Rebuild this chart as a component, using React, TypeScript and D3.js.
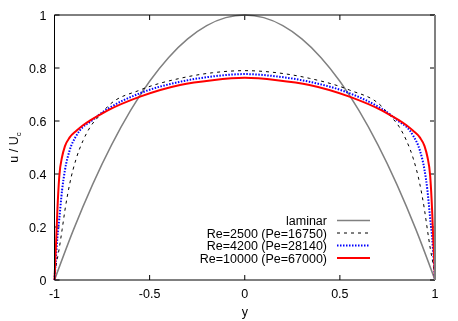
import * as d3 from 'd3'
import { useEffect, useRef } from 'react'

// wall-normal position (channel half-width = 1)
const yPos = [
  -1, -0.99, -0.985, -0.975, -0.96, -0.945, -0.92, -0.885, -0.85, -0.81, -0.76, -0.72, -0.55, -0.34, -0.17, 0,
  0.17, 0.34, 0.55, 0.72, 0.76, 0.81, 0.85, 0.885, 0.92, 0.945, 0.96, 0.975, 0.985, 0.99, 1,
]
const re2500 = [
  0, 0.06, 0.08, 0.12, 0.19, 0.264, 0.363, 0.46, 0.526, 0.58, 0.623, 0.655, 0.717, 0.761, 0.782, 0.79,
  0.782, 0.761, 0.717, 0.655, 0.623, 0.58, 0.526, 0.46, 0.363, 0.264, 0.19, 0.12, 0.08, 0.06, 0,
]
const re4200 = [
  0, 0.11, 0.16, 0.23, 0.34, 0.415, 0.49, 0.545, 0.578, 0.598, 0.627, 0.646, 0.705, 0.748, 0.768, 0.777,
  0.768, 0.748, 0.705, 0.646, 0.627, 0.598, 0.578, 0.545, 0.49, 0.415, 0.34, 0.23, 0.16, 0.11, 0,
]
const re10000 = [
  0, 0.17, 0.26, 0.39, 0.465, 0.505, 0.538, 0.563, 0.584, 0.603, 0.624, 0.64, 0.692, 0.736, 0.754, 0.763,
  0.754, 0.736, 0.692, 0.64, 0.624, 0.603, 0.584, 0.563, 0.538, 0.505, 0.465, 0.39, 0.26, 0.17, 0,
]
const yLam = [-1, -0.9, -0.8, -0.7, -0.6, -0.5, -0.4, -0.3, -0.2, -0.1, 0, 0.1, 0.2, 0.3, 0.4, 0.5, 0.6, 0.7, 0.8, 0.9, 1]
const laminar = [0, 0.19, 0.36, 0.51, 0.64, 0.75, 0.84, 0.91, 0.96, 0.99, 1, 0.99, 0.96, 0.91, 0.84, 0.75, 0.64, 0.51, 0.36, 0.19, 0]

const xTicks = [-1, -0.5, 0, 0.5, 1]
const yTicks = [0, 0.2, 0.4, 0.6, 0.8, 1]

const series = [
  { label: 'laminar', xs: yLam, ys: laminar, color: '#808080', width: 1.5, dash: null },
  { label: 'Re=2500 (Pe=16750)', xs: yPos, ys: re2500, color: '#000000', width: 1, dash: '3,4' },
  { label: 'Re=4200 (Pe=28140)', xs: yPos, ys: re4200, color: '#0000ff', width: 2, dash: '1.5,1.5' },
  { label: 'Re=10000 (Pe=67000)', xs: yPos, ys: re10000, color: '#ff0000', width: 2, dash: null },
]

const font = "'Liberation Sans', Arial, sans-serif"

const App = () => {
  const ref = useRef<SVGSVGElement>(null)

  useEffect(() => {
    const width = 458
    const height = 321
    const margin = { top: 15, right: 23, bottom: 41, left: 54.5 }
    const svg = d3.select(ref.current)
    svg.selectAll('*').remove()
    svg.attr('width', width).attr('height', height)

    const x = d3.scaleLinear().domain([-1, 1]).range([margin.left, width - margin.right])
    const y = d3.scaleLinear().domain([0, 1]).range([height - margin.bottom, margin.top])

    const g = svg.append('g')

    // ticks (mirrored, inward)
    xTicks.forEach((t) => {
      g.append('line').attr('x1', x(t)).attr('x2', x(t)).attr('y1', y(0)).attr('y2', y(0) - 5).attr('stroke', '#000')
      g.append('line').attr('x1', x(t)).attr('x2', x(t)).attr('y1', y(1)).attr('y2', y(1) + 5).attr('stroke', '#000')
      g.append('text')
        .attr('x', x(t))
        .attr('y', y(0) + 18)
        .attr('text-anchor', 'middle')
        .attr('font-family', font)
        .attr('font-size', 12.5)
        .text(String(t))
    })
    yTicks.forEach((t) => {
      g.append('line').attr('x1', x(-1)).attr('x2', x(-1) + 5).attr('y1', y(t)).attr('y2', y(t)).attr('stroke', '#000')
      g.append('line').attr('x1', x(1)).attr('x2', x(1) - 5).attr('y1', y(t)).attr('y2', y(t)).attr('stroke', '#000')
      g.append('text')
        .attr('x', x(-1) - 8)
        .attr('y', y(t) + 4.5)
        .attr('text-anchor', 'end')
        .attr('font-family', font)
        .attr('font-size', 12.5)
        .text(String(t))
    })

    // curves
    series.forEach((s) => {
      const pts = s.xs.map((v, i) => [v, s.ys[i]] as [number, number])
      const line = d3
        .line<[number, number]>()
        .x((d) => x(d[0]))
        .y((d) => y(d[1]))
        .curve(d3.curveMonotoneX)
      const p = g
        .append('path')
        .attr('d', line(pts))
        .attr('fill', 'none')
        .attr('stroke', s.color)
        .attr('stroke-width', s.width)
      if (s.dash) p.attr('stroke-dasharray', s.dash)
    })

    // border
    g.append('path')
      .attr('d', `M${x(1)},${y(1)}H${x(-1)}V${y(0)}H${x(1)}`)
      .attr('fill', 'none')
      .attr('stroke', '#000')
      .attr('stroke-width', 1)
    g.append('line')
      .attr('x1', x(1))
      .attr('x2', x(1))
      .attr('y1', y(1))
      .attr('y2', y(0))
      .attr('stroke', '#808080')
      .attr('stroke-width', 2)

    // legend
    series.forEach((s, i) => {
      const ly = 220.5 + i * 12.5
      g.append('text')
        .attr('x', 327)
        .attr('y', ly + 4.5)
        .attr('text-anchor', 'end')
        .attr('font-family', font)
        .attr('font-size', 12.5)
        .text(s.label)
      const l = g
        .append('line')
        .attr('x1', 337)
        .attr('x2', 370)
        .attr('y1', ly)
        .attr('y2', ly)
        .attr('stroke', s.color)
        .attr('stroke-width', s.width)
      if (s.dash) l.attr('stroke-dasharray', s.dash)
    })

    // axis labels
    g.append('text')
      .attr('x', x(0))
      .attr('y', 316)
      .attr('text-anchor', 'middle')
      .attr('font-family', font)
      .attr('font-size', 12.5)
      .text('y')
    const yl = g
      .append('text')
      .attr('transform', `translate(18,${(y(0) + y(1)) / 2}) rotate(-90)`)
      .attr('text-anchor', 'middle')
      .attr('font-family', font)
      .attr('font-size', 12.5)
    yl.append('tspan').text('u / U')
    yl.append('tspan').attr('font-size', 8).attr('dy', 3).text('c')
  }, [])

  return (
    <div style={{ position: 'fixed', left: 0, top: 0 }}>
      <svg ref={ref}></svg>
    </div>
  )
}

export default App
